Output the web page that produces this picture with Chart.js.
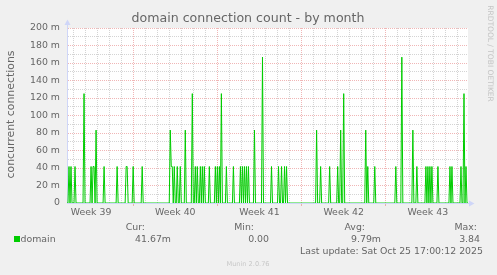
<!DOCTYPE html>
<html><head><meta charset="utf-8">
<script src="https://cdn.jsdelivr.net/npm/chart.js@4/dist/chart.umd.min.js"></script>
<style>html,body{margin:0;padding:0;background:#f0f0f0;overflow:hidden}canvas{display:block}</style>
</head><body>
<canvas id="c" width="497" height="275"></canvas>
<script>
// ---- data ----
const titleText = 'domain connection count - by month';
const yAxisTitle = 'concurrent connections';
const seriesName = 'domain';
const startTime = Date.UTC(2025, 8, 23, 12, 0);   // first 2-hour sample
const slotHours = 2;
const slotCount = 401;
// samples that are non-zero (slot number from start) and their values (connections)
const spikeSlots = [2, 4, 8, 17, 24, 26, 27, 29, 37, 50, 59, 60, 66, 75,
  103, 104, 105, 107, 110, 113, 118, 125, 128, 130, 133, 135, 137, 142,
  148, 150, 152, 154, 159, 166, 173, 175, 177, 179, 181, 187, 195,
  204, 211, 214, 217, 219, 249, 253, 262, 270, 273, 276,
  298, 300, 307, 328, 334, 345, 349, 358, 360, 362, 364, 370,
  382, 384, 393, 396, 398];
const spikeValues = [0.0417, 0.0417, 0.0417, 0.125, 0.0417, 0.0417, 0.0417, 0.0833, 0.0417, 0.0417, 0.0417, 0.0417, 0.0417, 0.0417,
  0.0833, 0.0417, 0.0417, 0.0417, 0.0417, 0.0417, 0.0833, 0.125, 0.0417, 0.0417, 0.0417, 0.0417, 0.0417, 0.0417,
  0.0417, 0.0417, 0.0417, 0.125, 0.0417, 0.0417, 0.0417, 0.0417, 0.0417, 0.0417, 0.0417, 0.0833, 0.1667,
  0.0417, 0.0417, 0.0417, 0.0417, 0.0417, 0.0833, 0.0417, 0.0417, 0.0417, 0.0833, 0.125,
  0.0833, 0.0417, 0.0417, 0.0417, 0.1667, 0.0833, 0.0417, 0.0417, 0.0417, 0.0417, 0.0417, 0.0417,
  0.0417, 0.0417, 0.0417, 0.125, 0.0417];
const weekStarts = ['2025-09-22', '2025-09-29', '2025-10-06', '2025-10-13', '2025-10-20'];
const weekLabels = ['Week 39', 'Week 40', 'Week 41', 'Week 42', 'Week 43'];
const yMax = 0.2;
const yMinorStep = 0.01;
const yMajorStep = 0.02;
const legendHeaders = ['Cur:', 'Min:', 'Avg:', 'Max:'];
const legendValues = ['41.67m', '0.00', '9.79m', '3.84'];
const lastUpdate = 'Last update: Sat Oct 25 17:00:12 2025';
const footerText = 'Munin 2.0.76';
const sideText = 'RRDTOOL / TOBI OETIKER';

// ---- build series ----
const slotMs = slotHours * 3600e3;
const endTime = startTime + (slotCount - 1) * slotMs;
const series = [];
for (let i = 0; i < slotCount; i++) series.push({ x: startTime + i * slotMs, y: 0 });
spikeSlots.forEach((s, k) => { series[s].y = spikeValues[k]; });

// ---- x ticks: day lines, week (Monday) lines, week-centre labels ----
const DAY = 86400e3;
const xTicks = [];
const weekStartMs = weekStarts.map(d => Date.parse(d + 'T00:00:00Z'));
for (let t = Math.ceil(startTime / DAY) * DAY; t <= endTime; t += DAY) {
  xTicks.push({ value: t, kind: weekStartMs.includes(t) ? 'major' : 'minor', label: '' });
}
weekStartMs.forEach((t, k) => {
  const c = t + 3.5 * DAY;
  if (c >= startTime && c <= endTime) xTicks.push({ value: c, kind: 'label', label: weekLabels[k] });
});
xTicks.sort((a, b) => a.value - b.value);
const xKind = new Map(xTicks.map(t => [t.value, t]));

const yTicks = [];
for (let k = 0; k <= Math.round(yMax / yMinorStep); k++) yTicks.push(+(k * yMinorStep).toFixed(4));
const isMajorY = v => Math.abs(v / yMajorStep - Math.round(v / yMajorStep)) < 1e-6;

const FONT = "'DejaVu Sans', sans-serif";
const TXT = '#666666';
const AXIS = '#cfd6f8';
const GRID = 'rgba(143,143,143,0.38)';
const MGRID = 'rgba(225,110,110,0.5)';

const bgPlugin = {
  id: 'bg',
  beforeDraw(chart) {
    const { ctx, chartArea: a } = chart;
    ctx.save();
    ctx.fillStyle = '#f0f0f0';
    ctx.fillRect(0, 0, chart.width, chart.height);
    ctx.fillStyle = '#ffffff';
    ctx.fillRect(a.left, a.top, a.right - a.left, a.bottom - a.top);
    ctx.restore();
  }
};

const decoPlugin = {
  id: 'deco',
  afterDraw(chart) {
    const { ctx, chartArea: a } = chart;
    ctx.save();
    // axis extensions + arrows
    ctx.strokeStyle = AXIS; ctx.fillStyle = AXIS; ctx.lineWidth = 1;
    ctx.beginPath(); ctx.moveTo(a.left + 0.5, a.top); ctx.lineTo(a.left + 0.5, a.top - 5); ctx.stroke();
    ctx.beginPath(); ctx.moveTo(a.left - 2.5, a.top - 3); ctx.lineTo(a.left + 3.5, a.top - 3); ctx.lineTo(a.left + 0.5, a.top - 8.5); ctx.closePath(); ctx.fill();
    ctx.beginPath(); ctx.moveTo(a.right, a.bottom + 0.5); ctx.lineTo(a.right + 2, a.bottom + 0.5); ctx.stroke();
    ctx.beginPath(); ctx.moveTo(a.right + 1, a.bottom - 2.5); ctx.lineTo(a.right + 1, a.bottom + 3.5); ctx.lineTo(a.right + 6.5, a.bottom + 0.5); ctx.closePath(); ctx.fill();

    // title
    ctx.fillStyle = TXT; ctx.textBaseline = 'middle';
    ctx.font = '12.6px ' + FONT; ctx.textAlign = 'center';
    ctx.fillText(titleText, 248, 18.5);
    // y title
    ctx.save(); ctx.translate(11.5, 114.5); ctx.rotate(-Math.PI / 2);
    ctx.font = '10.9px ' + FONT; ctx.fillText(yAxisTitle, 0, 0); ctx.restore();
    // side text
    ctx.save(); ctx.translate(490, 53.5); ctx.rotate(Math.PI / 2);
    ctx.fillStyle = '#c4c4c4'; ctx.font = '7.5px ' + FONT; ctx.fillText(sideText, 0, 0); ctx.restore();

    // legend
    ctx.font = '9.4px ' + FONT;
    ctx.fillStyle = '#00cc00'; ctx.fillRect(14, 236, 6, 6);
    ctx.fillStyle = TXT; ctx.textAlign = 'left';
    ctx.fillText(seriesName, 20.5, 239.5);
    const headRight = [145, 254, 365, 477];
    const valRight = [171, 269, 381, 480];
    ctx.textAlign = 'right';
    legendHeaders.forEach((h, i) => ctx.fillText(h, headRight[i], 227.5));
    legendValues.forEach((v, i) => ctx.fillText(v, valRight[i], 239.5));
    ctx.fillText(lastUpdate, 483, 251.5);
    ctx.textAlign = 'center'; ctx.fillStyle = '#c8c8c8'; ctx.font = '6.6px ' + FONT;
    ctx.fillText(footerText, 248, 264);
    ctx.restore();
  }
};

Chart.defaults.font.family = FONT;
new Chart(document.getElementById('c'), {
  type: 'line',
  data: { datasets: [{ label: seriesName, data: series, borderColor: '#00cc00', borderWidth: 1,
    pointRadius: 0, pointHoverRadius: 0, tension: 0, fill: false }] },
  options: {
    responsive: false, animation: false, devicePixelRatio: 1, parsing: true,
    layout: { padding: { top: 28, right: 29, bottom: 56, left: 0 } },
    plugins: { legend: { display: false }, tooltip: { enabled: false }, title: { display: false } },
    scales: {
      x: {
        type: 'linear', min: startTime, max: endTime,
        afterFit: s => { s.height = 16; },
        afterBuildTicks: s => { s.ticks = xTicks.map(t => ({ value: t.value })); },
        ticks: { autoSkip: false, maxRotation: 0, minRotation: 0, padding: 1, color: TXT,
          font: { size: 9.4, family: FONT },
          callback: v => (xKind.get(v) ? xKind.get(v).label : '') },
        grid: {
          drawTicks: true, tickLength: 3, lineWidth: 1,
          color: c => { const k = c.tick && xKind.get(c.tick.value); return !k || k.kind === 'label' ? 'rgba(0,0,0,0)' : (k.kind === 'major' ? MGRID : GRID); },
          tickColor: c => { const k = c.tick && xKind.get(c.tick.value); return k && k.kind === 'major' ? MGRID : 'rgba(0,0,0,0)'; }
        },
        border: { display: true, color: AXIS, width: 1, dash: [1, 1] }
      },
      y: {
        type: 'linear', min: 0, max: yMax,
        afterFit: s => { s.width = 67; },
        afterBuildTicks: s => { s.ticks = yTicks.map(v => ({ value: v })); },
        ticks: { autoSkip: false, padding: 7, color: TXT, font: { size: 9.4, family: FONT },
          callback: v => (isMajorY(v) ? (v === 0 ? '0' : Math.round(v * 1000) + ' m') : '') },
        grid: { drawTicks: false, lineWidth: 1,
          color: c => (c.tick && isMajorY(c.tick.value) ? MGRID : GRID) },
        border: { display: true, color: AXIS, width: 1, dash: [1, 1] }
      }
    }
  },
  plugins: [bgPlugin, decoPlugin]
});
</script>
</body></html>
